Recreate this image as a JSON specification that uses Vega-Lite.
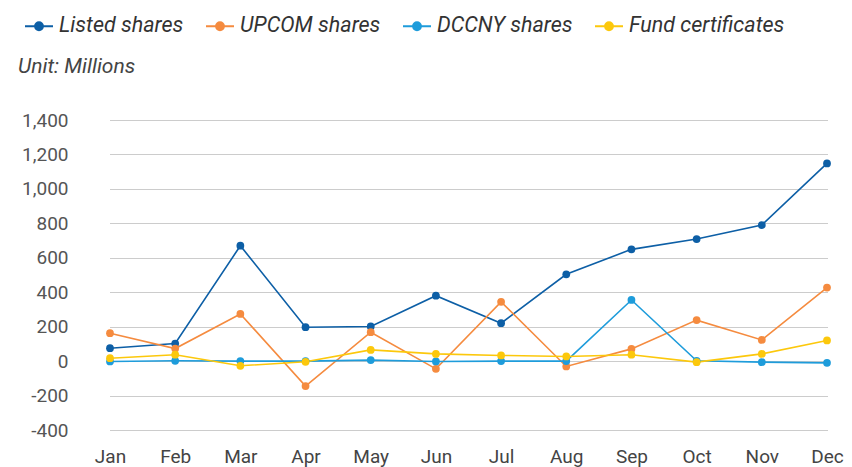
{
  "$schema": "https://vega.github.io/schema/vega-lite/v6.json",
  "width": 775,
  "height": 310,
  "autosize": {"type": "none"},
  "padding": {"left": 77, "top": 120, "right": 0, "bottom": 37},
  "background": "white",
  "title": {
    "text": "Unit: Millions",
    "anchor": "start",
    "frame": "group",
    "orient": "top",
    "dx": -59,
    "offset": 0,
    "dy": 66,
    "font": "Roboto",
    "fontStyle": "italic",
    "fontWeight": "normal",
    "fontSize": 21,
    "color": "#444444"
  },
  "config": {
    "view": {"stroke": null},
    "font": "Roboto"
  },
  "data": {
    "values": [
      {"month": "Jan", "series": "Listed shares", "value": 75},
      {"month": "Feb", "series": "Listed shares", "value": 102},
      {"month": "Mar", "series": "Listed shares", "value": 670},
      {"month": "Apr", "series": "Listed shares", "value": 197},
      {"month": "May", "series": "Listed shares", "value": 201},
      {"month": "Jun", "series": "Listed shares", "value": 380},
      {"month": "Jul", "series": "Listed shares", "value": 220},
      {"month": "Aug", "series": "Listed shares", "value": 504},
      {"month": "Sep", "series": "Listed shares", "value": 649},
      {"month": "Oct", "series": "Listed shares", "value": 709},
      {"month": "Nov", "series": "Listed shares", "value": 790},
      {"month": "Dec", "series": "Listed shares", "value": 1148},
      {"month": "Jan", "series": "UPCOM shares", "value": 162},
      {"month": "Feb", "series": "UPCOM shares", "value": 73},
      {"month": "Mar", "series": "UPCOM shares", "value": 274},
      {"month": "Apr", "series": "UPCOM shares", "value": -145},
      {"month": "May", "series": "UPCOM shares", "value": 168},
      {"month": "Jun", "series": "UPCOM shares", "value": -45},
      {"month": "Jul", "series": "UPCOM shares", "value": 344},
      {"month": "Aug", "series": "UPCOM shares", "value": -31},
      {"month": "Sep", "series": "UPCOM shares", "value": 71},
      {"month": "Oct", "series": "UPCOM shares", "value": 238},
      {"month": "Nov", "series": "UPCOM shares", "value": 123},
      {"month": "Dec", "series": "UPCOM shares", "value": 427},
      {"month": "Jan", "series": "DCCNY shares", "value": -2},
      {"month": "Feb", "series": "DCCNY shares", "value": 2},
      {"month": "Mar", "series": "DCCNY shares", "value": 0},
      {"month": "Apr", "series": "DCCNY shares", "value": 0},
      {"month": "May", "series": "DCCNY shares", "value": 6},
      {"month": "Jun", "series": "DCCNY shares", "value": -2},
      {"month": "Jul", "series": "DCCNY shares", "value": 0},
      {"month": "Aug", "series": "DCCNY shares", "value": 0},
      {"month": "Sep", "series": "DCCNY shares", "value": 355},
      {"month": "Oct", "series": "DCCNY shares", "value": 2},
      {"month": "Nov", "series": "DCCNY shares", "value": -6},
      {"month": "Dec", "series": "DCCNY shares", "value": -10},
      {"month": "Jan", "series": "Fund certificates", "value": 17},
      {"month": "Feb", "series": "Fund certificates", "value": 37},
      {"month": "Mar", "series": "Fund certificates", "value": -27},
      {"month": "Apr", "series": "Fund certificates", "value": -4},
      {"month": "May", "series": "Fund certificates", "value": 65},
      {"month": "Jun", "series": "Fund certificates", "value": 42},
      {"month": "Jul", "series": "Fund certificates", "value": 33},
      {"month": "Aug", "series": "Fund certificates", "value": 27},
      {"month": "Sep", "series": "Fund certificates", "value": 37},
      {"month": "Oct", "series": "Fund certificates", "value": -6},
      {"month": "Nov", "series": "Fund certificates", "value": 42},
      {"month": "Dec", "series": "Fund certificates", "value": 120}
    ]
  },
  "encoding": {
    "x": {
      "field": "month",
      "type": "ordinal",
      "sort": ["Jan","Feb","Mar","Apr","May","Jun","Jul","Aug","Sep","Oct","Nov","Dec"],
      "scale": {"type": "point", "range": [33, 750], "padding": 0},
      "axis": {
        "title": null,
        "domain": false,
        "ticks": false,
        "grid": false,
        "labelAngle": 0,
        "labelFontSize": 19,
        "labelColor": "#444444",
        "labelPadding": 17,
        "labelFont": "Roboto"
      }
    },
    "y": {
      "field": "value",
      "type": "quantitative",
      "scale": {"domain": [-400, 1400], "nice": false, "zero": false},
      "axis": {
        "title": null,
        "domain": false,
        "ticks": false,
        "values": [-400, -200, 0, 200, 400, 600, 800, 1000, 1200, 1400],
        "format": ",d",
        "labelExpr": "replace(datum.label, '\u2212', '-')",
        "labelFontSize": 19,
        "labelColor": "#555555",
        "labelPadding": 9,
        "labelFont": "Roboto",
        "gridColor": "#999999",
        "gridDash": [1, 1],
        "gridWidth": 1
      }
    },
    "color": {
      "field": "series",
      "type": "nominal",
      "sort": ["Listed shares", "UPCOM shares", "DCCNY shares", "Fund certificates"],
      "scale": {
        "domain": ["Listed shares", "UPCOM shares", "DCCNY shares", "Fund certificates"],
        "range": ["#0d5fa6", "#f58b3f", "#1e9cdb", "#fcc80c"]
      },
      "legend": {
        "title": null,
        "orient": "none",
        "direction": "horizontal",
        "legendX": -53,
        "legendY": -109,
        "labelFont": "Roboto",
        "labelFontStyle": "italic",
        "labelFontSize": 21.5,
        "labelColor": "#333333",
        "labelOffset": 5,
        "columnPadding": 18,
        "symbolType": "M-1,0L1,0M-0.28,0A0.28,0.28 0 1,1 0.28,0A0.28,0.28 0 1,1 -0.28,0Z",
        "symbolSize": 784,
        "symbolStrokeWidth": 2
      }
    }
  },
  "layer": [
    {"mark": {"type": "line", "strokeWidth": 1.6}},
    {"mark": {"type": "point", "filled": true, "size": 60, "opacity": 1}}
  ]
}
